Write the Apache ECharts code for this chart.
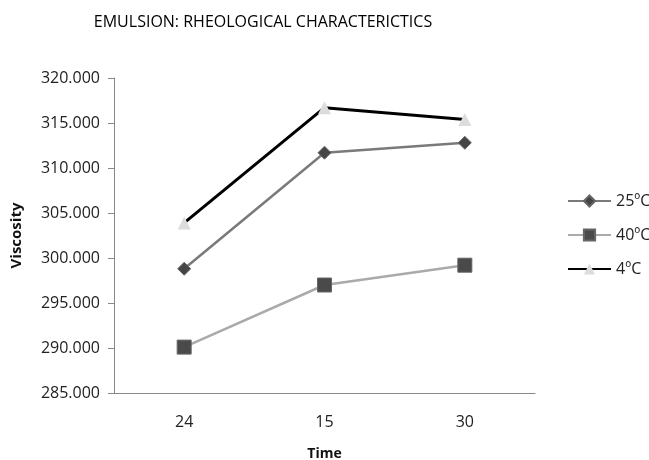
<!DOCTYPE html>
<html>
<head>
<meta charset="utf-8">
<script src="https://cdn.jsdelivr.net/npm/echarts@6/dist/echarts.min.js"></script>
<style>
  html, body { margin: 0; padding: 0; background: #fff; }
  #main { width: 649px; height: 460px; }
</style>
</head>
<body>
<div id="main"></div>
<script>
// data
var times = ['24', '15', '30']
var visc25 = [298.8, 311.7, 312.8]
var visc40 = [290.1, 297.0, 299.2]
var visc4 = [303.9, 316.7, 315.4]

var font = 'Open Sans'

var chart = echarts.init(document.getElementById('main'))
chart.setOption({
  animation: false,
  title: {
    text: 'EMULSION: RHEOLOGICAL CHARACTERICTICS',
    left: 258,
    textAlign: 'center',
    top: 9,
    textStyle: { fontFamily: font, fontSize: 16, fontWeight: 'normal', color: '#000' }
  },
  legend: {
    orient: 'vertical',
    left: 562,
    top: 188,
    itemWidth: 43,
    itemHeight: 14,
    itemGap: 18,
    textStyle: { fontFamily: font, fontSize: 16, color: '#222' },
    data: ['25ºC', '40ºC', '4ºC']
  },
  grid: { left: 114, right: 114, top: 78, bottom: 67, containLabel: false, outerBoundsMode: 'none' },
  xAxis: {
    type: 'category',
    data: times,
    boundaryGap: true,
    name: 'Time',
    nameLocation: 'middle',
    nameGap: 54,
    nameTextStyle: { fontFamily: font, fontSize: 14, fontWeight: 'bold', color: '#111' },
    axisLine: { lineStyle: { color: '#888' } },
    axisTick: { length: 5, lineStyle: { color: '#888' } },
    axisLabel: { fontFamily: font, fontSize: 16, color: '#222', margin: 21 }
  },
  yAxis: {
    type: 'value',
    min: 285,
    max: 320,
    interval: 5,
    name: 'Viscosity',
    nameLocation: 'middle',
    nameGap: 90,
    nameTextStyle: { fontFamily: font, fontSize: 15, fontWeight: 'bold', color: '#111' },
    axisLine: { show: true, lineStyle: { color: '#888' } },
    axisTick: { show: true, length: 6, lineStyle: { color: '#888' } },
    splitLine: { show: false },
    axisLabel: {
      fontFamily: font, fontSize: 16, color: '#222', margin: 14,
      formatter: function (v) { return v.toFixed(3) }
    }
  },
  series: [
    {
      name: '25ºC',
      type: 'line',
      data: visc25,
      symbol: 'diamond',
      symbolSize: 13,
      lineStyle: { color: '#7a7a7a', width: 2.5 },
      itemStyle: { color: '#454545', borderColor: '#666', borderWidth: 1 }
    },
    {
      name: '40ºC',
      type: 'line',
      data: visc40,
      symbol: 'rect',
      symbolSize: 14,
      lineStyle: { color: '#aaaaaa', width: 2.5 },
      itemStyle: { color: '#4a4a4a', borderColor: '#666', borderWidth: 1 }
    },
    {
      name: '4ºC',
      type: 'line',
      data: visc4,
      symbol: 'triangle',
      symbolSize: 13,
      lineStyle: { color: '#000', width: 3 },
      itemStyle: { color: '#dcdcdc' }
    }
  ]
})
</script>
</body>
</html>
